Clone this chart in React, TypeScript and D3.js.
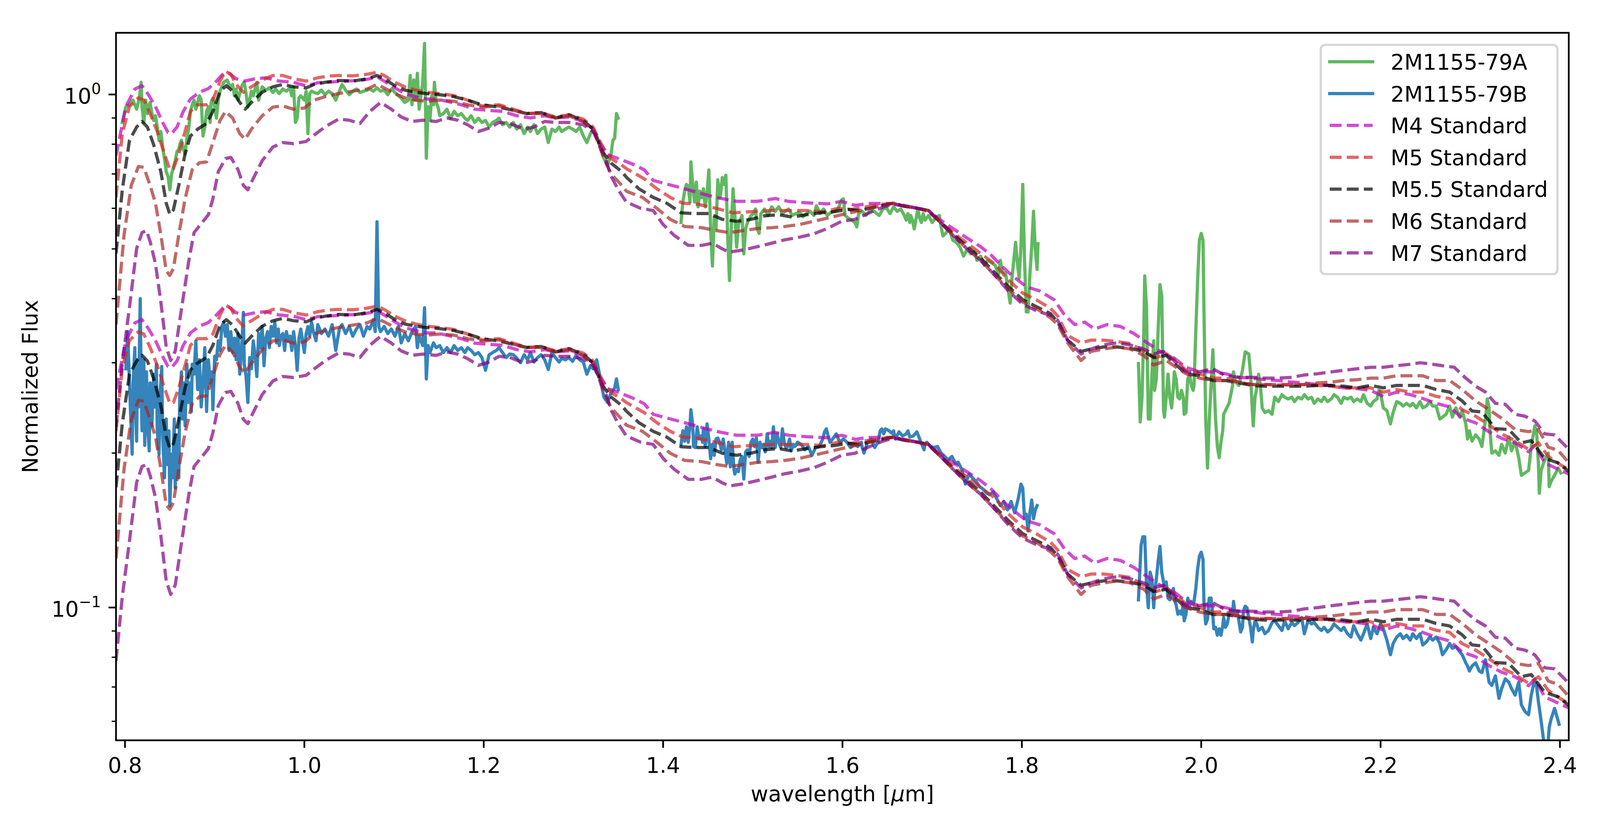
import { useEffect, useRef } from "react";
import * as d3 from "d3";

type Pt = [number, number];

// axis limits and ticks
const xDomain: [number, number] = [0.79, 2.4098];
const yDomain: [number, number] = [0.0551, 1.319];
const xTicks = [0.8, 1.0, 1.2, 1.4, 1.6, 1.8, 2.0, 2.2, 2.4];
const xTickLabels = ["0.8", "1.0", "1.2", "1.4", "1.6", "1.8", "2.0", "2.2", "2.4"];
const yMajorTicks = [0.1, 1];
const yMajorExponents = ["\u22121", "0"];
const yMinorTicks = [0.06, 0.07, 0.08, 0.09, 0.2, 0.3, 0.4, 0.5, 0.6, 0.7, 0.8, 0.9];

// standards are normalised to A; the second copy sits on B
const normB = 0.35;

// 2M1155-79A spectrum (three bands)
const specA1: Pt[] = [
  [0.797,0.882],[0.801,0.946],[0.805,0.955],[0.809,0.975],[0.813,0.936],[0.816,0.984],[0.818,1.056],[0.819,0.946],
  [0.821,0.882],[0.823,0.975],[0.825,0.918],[0.826,0.946],[0.828,0.965],[0.830,0.918],[0.832,0.890],[0.834,0.909],
  [0.836,0.864],[0.838,0.814],[0.840,0.847],[0.842,0.790],[0.844,0.751],[0.846,0.707],[0.848,0.693],[0.850,0.652],
  [0.852,0.700],[0.854,0.721],[0.856,0.743],[0.858,0.774],[0.860,0.782],[0.861,0.798],[0.863,0.814],[0.865,0.782],
  [0.867,0.766],[0.869,0.822],[0.871,0.856],[0.873,0.927],[0.875,0.955],[0.877,0.975],[0.879,0.936],[0.881,0.965],
  [0.883,0.994],[0.885,0.975],[0.887,0.830],[0.889,0.864],[0.891,0.927],[0.893,0.946],[0.895,0.882],[0.896,0.965],
  [0.898,0.984],[0.900,0.946],[0.902,0.899],[0.904,0.975],[0.906,1.015],[0.908,1.035],[0.910,1.056],[0.912,1.062],
  [0.914,1.067],[0.916,1.046],[0.918,1.035],[0.920,1.046],[0.922,0.994],[0.924,1.025],[0.926,0.975],[0.928,1.004],
  [0.930,1.035],[0.931,1.046],[0.933,1.056],[0.935,1.004],[0.937,0.946],[0.939,0.975],[0.941,1.015],[0.943,0.994],
  [0.945,1.025],[0.947,1.056],[0.949,0.975],[0.951,1.004],[0.953,1.035],[0.957,1.020],[0.961,1.030],[0.965,1.009],
  [0.968,1.025],[0.972,1.004],[0.976,1.025],[0.980,1.015],[0.984,1.030],[0.986,0.994],[0.988,1.035],[0.990,0.882],
  [0.992,0.899],[0.994,0.984],[0.996,0.994],[1.000,0.975],[1.002,1.015],[1.004,0.839],[1.006,1.004],[1.008,1.015],
  [1.011,1.009],[1.015,1.004],[1.019,1.020],[1.023,0.999],[1.027,1.015],[1.031,1.004],[1.035,0.975],[1.039,1.015],
  [1.042,1.046],[1.046,1.020],[1.050,0.999],[1.054,1.015],[1.058,1.025],[1.062,1.009],[1.066,1.015],[1.070,1.020],
  [1.073,1.025],[1.077,1.015],[1.081,1.030],[1.085,1.015],[1.089,1.020],[1.093,0.999],[1.097,1.025],[1.101,1.009],
  [1.105,0.994],[1.108,0.984],[1.112,0.965],[1.116,0.975],[1.118,1.089],[1.120,0.955],[1.122,1.067],[1.124,0.975],
  [1.126,1.100],[1.128,0.936],[1.130,0.994],[1.132,1.056],[1.134,1.258],[1.136,0.751],[1.138,0.946],[1.140,0.890],
  [1.142,0.994],[1.144,0.955],[1.145,1.056],[1.147,0.965],[1.149,0.946],[1.151,0.909],[1.155,0.918],[1.159,0.936],
  [1.163,0.899],[1.167,0.927],[1.171,0.909],[1.175,0.918],[1.179,0.899],[1.182,0.890],[1.186,0.909],[1.190,0.882],
  [1.194,0.899],[1.198,0.882],[1.202,0.890],[1.206,0.864],[1.210,0.882],[1.214,0.890],[1.217,0.899],[1.221,0.873],
  [1.225,0.882],[1.229,0.864],[1.233,0.882],[1.237,0.856],[1.241,0.873],[1.245,0.839],[1.249,0.864],[1.252,0.847],
  [1.256,0.873],[1.260,0.839],[1.264,0.856],[1.268,0.864],[1.272,0.806],[1.276,0.856],[1.280,0.847],[1.284,0.864],
  [1.287,0.847],[1.291,0.856],[1.295,0.864],[1.299,0.856],[1.303,0.847],[1.307,0.864],[1.311,0.830],[1.315,0.806],
  [1.319,0.839],[1.322,0.856],[1.326,0.830],[1.330,0.790],[1.334,0.751],[1.338,0.728],[1.342,0.766],[1.344,0.814],
  [1.346,0.822],[1.348,0.918],[1.350,0.899],
];
const specA2: Pt[] = [
  [1.420,0.563],[1.422,0.617],[1.424,0.648],[1.426,0.668],[1.428,0.662],[1.430,0.617],[1.431,0.739],[1.433,0.668],
  [1.435,0.617],[1.437,0.675],[1.439,0.604],[1.441,0.648],[1.443,0.629],[1.445,0.655],[1.447,0.604],[1.449,0.642],
  [1.451,0.713],[1.453,0.547],[1.455,0.463],[1.457,0.575],[1.459,0.547],[1.461,0.682],[1.463,0.629],[1.464,0.636],
  [1.466,0.689],[1.468,0.668],[1.470,0.696],[1.472,0.530],[1.474,0.434],[1.476,0.547],[1.478,0.655],[1.480,0.581],
  [1.482,0.504],[1.484,0.558],[1.486,0.569],[1.488,0.581],[1.490,0.489],[1.492,0.547],[1.494,0.563],[1.498,0.581],
  [1.501,0.586],[1.503,0.598],[1.505,0.547],[1.507,0.536],[1.509,0.586],[1.513,0.598],[1.517,0.581],[1.521,0.604],
  [1.525,0.592],[1.529,0.604],[1.533,0.586],[1.536,0.592],[1.540,0.598],[1.544,0.581],[1.548,0.586],[1.552,0.589],
  [1.556,0.578],[1.560,0.586],[1.564,0.592],[1.568,0.581],[1.571,0.607],[1.575,0.586],[1.579,0.598],[1.583,0.581],
  [1.587,0.589],[1.591,0.592],[1.595,0.598],[1.599,0.623],[1.601,0.626],[1.603,0.581],[1.606,0.575],[1.610,0.569],
  [1.614,0.563],[1.616,0.552],[1.618,0.586],[1.622,0.592],[1.626,0.581],[1.630,0.592],[1.634,0.595],[1.638,0.586],
  [1.641,0.581],[1.645,0.598],[1.649,0.601],[1.653,0.586],[1.657,0.604],[1.661,0.592],[1.665,0.598],[1.669,0.581],
  [1.671,0.569],[1.673,0.586],[1.675,0.563],[1.676,0.581],[1.678,0.569],[1.680,0.547],[1.684,0.598],[1.686,0.575],
  [1.688,0.563],[1.690,0.586],[1.692,0.569],[1.696,0.581],[1.700,0.563],[1.704,0.575],[1.708,0.581],[1.710,0.552],
  [1.712,0.530],[1.715,0.536],[1.719,0.547],[1.723,0.520],[1.727,0.515],[1.731,0.504],[1.735,0.484],[1.739,0.499],
  [1.743,0.489],[1.747,0.494],[1.750,0.475],[1.754,0.484],[1.758,0.465],[1.762,0.475],[1.766,0.470],[1.770,0.465],
  [1.774,0.447],[1.776,0.475],[1.778,0.452],[1.782,0.447],[1.785,0.413],[1.787,0.392],[1.789,0.438],[1.791,0.475],
  [1.793,0.515],[1.795,0.470],[1.797,0.438],[1.799,0.504],[1.801,0.668],[1.803,0.475],[1.805,0.377],[1.807,0.377],
  [1.809,0.447],[1.811,0.504],[1.813,0.592],[1.815,0.499],[1.817,0.456],[1.818,0.512],
];
const specA3: Pt[] = [
  [1.930,0.299],[1.932,0.230],[1.934,0.257],[1.936,0.348],[1.937,0.443],[1.939,0.385],[1.941,0.233],[1.943,0.233],
  [1.945,0.285],[1.947,0.331],[1.948,0.265],[1.950,0.279],[1.952,0.348],[1.954,0.426],[1.956,0.405],[1.958,0.242],
  [1.959,0.235],[1.961,0.257],[1.963,0.285],[1.965,0.257],[1.967,0.245],[1.969,0.268],[1.970,0.288],[1.972,0.279],
  [1.974,0.257],[1.976,0.255],[1.978,0.265],[1.980,0.257],[1.981,0.238],[1.983,0.240],[1.985,0.279],[1.987,0.285],
  [1.989,0.271],[1.991,0.265],[1.992,0.271],[1.994,0.348],[1.996,0.434],[1.998,0.520],[2.000,0.536],[2.002,0.520],
  [2.003,0.385],[2.005,0.233],[2.007,0.187],[2.009,0.233],[2.011,0.271],[2.013,0.318],[2.014,0.285],[2.016,0.233],
  [2.018,0.206],[2.020,0.196],[2.022,0.210],[2.024,0.221],[2.025,0.238],[2.027,0.242],[2.031,0.250],[2.035,0.271],
  [2.036,0.288],[2.038,0.276],[2.042,0.271],[2.046,0.290],[2.049,0.315],[2.053,0.312],[2.055,0.285],[2.057,0.242],
  [2.058,0.226],[2.060,0.257],[2.062,0.268],[2.064,0.285],[2.066,0.271],[2.068,0.245],[2.071,0.240],[2.075,0.242],
  [2.079,0.238],[2.080,0.245],[2.082,0.257],[2.086,0.252],[2.090,0.260],[2.093,0.257],[2.097,0.255],[2.101,0.257],
  [2.104,0.252],[2.108,0.257],[2.112,0.255],[2.115,0.260],[2.119,0.255],[2.123,0.257],[2.126,0.250],[2.130,0.255],
  [2.134,0.252],[2.137,0.257],[2.141,0.252],[2.145,0.255],[2.148,0.260],[2.152,0.257],[2.156,0.250],[2.159,0.257],
  [2.163,0.255],[2.167,0.257],[2.170,0.252],[2.174,0.255],[2.178,0.252],[2.181,0.260],[2.185,0.250],[2.189,0.247],
  [2.192,0.252],[2.196,0.255],[2.198,0.265],[2.200,0.262],[2.203,0.245],[2.207,0.242],[2.211,0.228],[2.214,0.240],
  [2.218,0.252],[2.222,0.250],[2.225,0.247],[2.229,0.250],[2.233,0.247],[2.236,0.250],[2.240,0.245],[2.244,0.252],
  [2.247,0.245],[2.251,0.247],[2.255,0.252],[2.258,0.247],[2.262,0.247],[2.266,0.233],[2.269,0.235],[2.273,0.238],
  [2.277,0.247],[2.280,0.235],[2.284,0.245],[2.288,0.235],[2.291,0.242],[2.295,0.228],[2.297,0.213],[2.299,0.221],
  [2.302,0.211],[2.306,0.217],[2.310,0.213],[2.313,0.206],[2.317,0.233],[2.319,0.255],[2.321,0.245],[2.322,0.221],
  [2.324,0.200],[2.328,0.202],[2.332,0.198],[2.335,0.208],[2.339,0.200],[2.343,0.215],[2.346,0.202],[2.350,0.211],
  [2.354,0.196],[2.357,0.181],[2.361,0.183],[2.365,0.185],[2.368,0.206],[2.372,0.226],[2.374,0.219],[2.376,0.190],
  [2.377,0.167],[2.379,0.185],[2.383,0.194],[2.387,0.200],[2.388,0.172],[2.390,0.176],[2.394,0.181],[2.398,0.187],
  [2.401,0.183],
];

// 2M1155-79B spectrum (three bands)
const specB1: Pt[] = [
  [0.801,0.292],[0.803,0.345],[0.805,0.274],[0.807,0.221],[0.808,0.199],[0.809,0.274],[0.811,0.321],[0.812,0.238],
  [0.813,0.211],[0.814,0.304],[0.815,0.246],[0.817,0.400],[0.818,0.274],[0.819,0.221],[0.821,0.304],[0.822,0.207],
  [0.824,0.288],[0.825,0.233],[0.827,0.202],[0.828,0.274],[0.830,0.226],[0.832,0.285],[0.833,0.246],[0.835,0.298],
  [0.836,0.221],[0.838,0.199],[0.839,0.259],[0.841,0.295],[0.842,0.217],[0.844,0.179],[0.846,0.233],[0.847,0.190],
  [0.849,0.221],[0.850,0.158],[0.852,0.199],[0.853,0.179],[0.855,0.233],[0.856,0.171],[0.858,0.217],[0.860,0.179],
  [0.861,0.259],[0.863,0.288],[0.864,0.233],[0.866,0.274],[0.867,0.226],[0.869,0.298],[0.870,0.251],[0.872,0.274],
  [0.874,0.241],[0.875,0.298],[0.877,0.285],[0.879,0.331],[0.881,0.266],[0.883,0.304],[0.885,0.246],[0.887,0.274],
  [0.889,0.321],[0.891,0.241],[0.893,0.304],[0.895,0.274],[0.897,0.288],[0.898,0.243],[0.900,0.309],[0.902,0.304],
  [0.904,0.331],[0.906,0.317],[0.908,0.353],[0.910,0.360],[0.912,0.338],[0.914,0.356],[0.916,0.317],[0.918,0.345],
  [0.920,0.314],[0.922,0.335],[0.924,0.304],[0.926,0.342],[0.928,0.285],[0.930,0.317],[0.932,0.376],[0.933,0.298],
  [0.935,0.282],[0.937,0.251],[0.939,0.307],[0.941,0.292],[0.943,0.331],[0.945,0.311],[0.947,0.282],[0.949,0.342],
  [0.951,0.321],[0.953,0.353],[0.955,0.296],[0.957,0.335],[0.959,0.345],[0.961,0.321],[0.963,0.353],[0.965,0.338],
  [0.967,0.360],[0.969,0.328],[0.971,0.349],[0.972,0.324],[0.974,0.338],[0.976,0.342],[0.978,0.317],[0.980,0.345],
  [0.982,0.331],[0.984,0.338],[0.986,0.317],[0.988,0.345],[0.990,0.324],[0.992,0.290],[0.994,0.335],[0.996,0.349],
  [0.998,0.331],[1.000,0.314],[1.002,0.342],[1.004,0.353],[1.006,0.338],[1.008,0.360],[1.010,0.345],[1.013,0.331],
  [1.015,0.356],[1.019,0.342],[1.023,0.349],[1.027,0.338],[1.031,0.356],[1.035,0.317],[1.039,0.349],[1.042,0.356],
  [1.046,0.342],[1.050,0.353],[1.054,0.338],[1.058,0.349],[1.062,0.356],[1.066,0.338],[1.070,0.353],[1.073,0.349],
  [1.077,0.364],[1.079,0.345],[1.081,0.565],[1.083,0.353],[1.085,0.345],[1.089,0.353],[1.093,0.342],[1.097,0.349],
  [1.101,0.338],[1.105,0.353],[1.108,0.328],[1.112,0.342],[1.116,0.331],[1.120,0.345],[1.124,0.353],[1.126,0.321],
  [1.128,0.338],[1.132,0.324],[1.134,0.384],[1.136,0.279],[1.138,0.324],[1.140,0.314],[1.144,0.328],[1.147,0.321],
  [1.151,0.324],[1.155,0.314],[1.159,0.321],[1.163,0.314],[1.167,0.324],[1.171,0.317],[1.175,0.321],[1.179,0.314],
  [1.182,0.321],[1.186,0.317],[1.190,0.311],[1.194,0.314],[1.198,0.307],[1.202,0.290],[1.206,0.311],[1.210,0.314],
  [1.214,0.317],[1.217,0.321],[1.221,0.314],[1.225,0.307],[1.229,0.312],[1.233,0.311],[1.237,0.306],[1.241,0.300],
  [1.245,0.311],[1.249,0.304],[1.252,0.314],[1.256,0.301],[1.260,0.307],[1.264,0.311],[1.268,0.304],[1.272,0.291],
  [1.276,0.314],[1.280,0.307],[1.284,0.301],[1.287,0.306],[1.291,0.304],[1.295,0.307],[1.299,0.302],[1.303,0.310],
  [1.307,0.304],[1.311,0.301],[1.315,0.285],[1.319,0.296],[1.322,0.292],[1.326,0.304],[1.330,0.279],[1.334,0.257],
  [1.338,0.251],[1.342,0.262],[1.346,0.268],[1.348,0.279],[1.350,0.266],
];
const specB2: Pt[] = [
  [1.420,0.208],[1.422,0.221],[1.424,0.211],[1.426,0.225],[1.428,0.210],[1.430,0.227],[1.431,0.243],[1.433,0.227],
  [1.434,0.206],[1.436,0.205],[1.438,0.225],[1.440,0.213],[1.442,0.216],[1.444,0.210],[1.445,0.223],[1.447,0.206],
  [1.449,0.228],[1.451,0.213],[1.453,0.195],[1.455,0.208],[1.457,0.198],[1.459,0.213],[1.461,0.214],[1.463,0.210],
  [1.465,0.203],[1.467,0.213],[1.469,0.202],[1.471,0.191],[1.473,0.210],[1.475,0.188],[1.477,0.210],[1.479,0.186],
  [1.480,0.182],[1.482,0.186],[1.484,0.184],[1.486,0.194],[1.488,0.197],[1.490,0.178],[1.492,0.201],[1.494,0.203],
  [1.496,0.197],[1.498,0.210],[1.500,0.213],[1.502,0.206],[1.504,0.214],[1.506,0.192],[1.508,0.210],[1.510,0.205],
  [1.512,0.208],[1.514,0.201],[1.516,0.218],[1.518,0.206],[1.520,0.211],[1.521,0.205],[1.523,0.225],[1.525,0.205],
  [1.527,0.218],[1.529,0.210],[1.531,0.205],[1.533,0.223],[1.535,0.210],[1.537,0.205],[1.539,0.206],[1.541,0.213],
  [1.543,0.202],[1.545,0.208],[1.547,0.206],[1.550,0.210],[1.554,0.208],[1.558,0.203],[1.562,0.206],[1.566,0.198],
  [1.570,0.205],[1.574,0.206],[1.578,0.213],[1.580,0.220],[1.582,0.223],[1.584,0.216],[1.586,0.210],[1.589,0.213],
  [1.593,0.218],[1.597,0.210],[1.601,0.213],[1.605,0.210],[1.609,0.205],[1.613,0.208],[1.617,0.206],[1.621,0.210],
  [1.622,0.205],[1.624,0.200],[1.628,0.210],[1.632,0.213],[1.636,0.205],[1.640,0.211],[1.642,0.221],[1.644,0.223],
  [1.646,0.218],[1.648,0.223],[1.652,0.221],[1.656,0.218],[1.657,0.221],[1.659,0.213],[1.663,0.220],[1.667,0.216],
  [1.671,0.218],[1.673,0.221],[1.675,0.215],[1.679,0.216],[1.683,0.220],[1.687,0.211],[1.691,0.203],[1.692,0.208],
  [1.694,0.210],[1.698,0.206],[1.702,0.205],[1.706,0.206],[1.710,0.200],[1.714,0.197],[1.718,0.194],[1.722,0.197],
  [1.726,0.191],[1.729,0.192],[1.733,0.186],[1.737,0.174],[1.741,0.182],[1.745,0.179],[1.749,0.176],[1.753,0.172],
  [1.757,0.170],[1.761,0.167],[1.764,0.166],[1.768,0.168],[1.772,0.163],[1.776,0.158],[1.780,0.161],[1.784,0.155],
  [1.788,0.161],[1.792,0.153],[1.796,0.163],[1.799,0.174],[1.801,0.171],[1.803,0.149],[1.805,0.152],[1.807,0.141],
  [1.809,0.153],[1.811,0.162],[1.813,0.149],[1.815,0.155],[1.817,0.158],
];
const specB3: Pt[] = [
  [1.930,0.1035],[1.933,0.1325],[1.935,0.1374],[1.937,0.1374],[1.939,0.1105],[1.941,0.0999],[1.943,0.1172],[1.945,0.1138],
  [1.947,0.0999],[1.948,0.1066],[1.950,0.1138],[1.952,0.1232],[1.954,0.1315],[1.956,0.1172],[1.958,0.1122],[1.959,0.1089],
  [1.961,0.1122],[1.963,0.1043],[1.965,0.1035],[1.967,0.1073],[1.969,0.1089],[1.970,0.1035],[1.972,0.1013],[1.974,0.0970],
  [1.976,0.0984],[1.978,0.0970],[1.980,0.1013],[1.981,0.0942],[1.983,0.0970],[1.985,0.1043],[1.987,0.1021],[1.989,0.1028],
  [1.991,0.1013],[1.992,0.1028],[1.994,0.1089],[1.996,0.1189],[1.998,0.1259],[2.000,0.1282],[2.002,0.1241],[2.003,0.1028],
  [2.005,0.0929],[2.007,0.0949],[2.009,0.1043],[2.011,0.1043],[2.013,0.0963],[2.014,0.0909],[2.016,0.0915],[2.018,0.0883],
  [2.020,0.0909],[2.022,0.0883],[2.024,0.0922],[2.025,0.0956],[2.027,0.0915],[2.029,0.0929],[2.031,0.0970],[2.033,0.0984],
  [2.035,0.0970],[2.036,0.1028],[2.038,0.0963],[2.040,0.0984],[2.042,0.0942],[2.044,0.0896],[2.046,0.0915],[2.047,0.0984],
  [2.049,0.1006],[2.051,0.0999],[2.053,0.0956],[2.055,0.0915],[2.057,0.0857],[2.058,0.0902],[2.060,0.0942],[2.062,0.0929],
  [2.064,0.0902],[2.068,0.0915],[2.071,0.0889],[2.075,0.0902],[2.079,0.0935],[2.082,0.0942],[2.086,0.0922],[2.090,0.0902],
  [2.093,0.0942],[2.097,0.0909],[2.101,0.0935],[2.104,0.0922],[2.108,0.0935],[2.112,0.0956],[2.115,0.0889],[2.119,0.0942],
  [2.123,0.0929],[2.126,0.0935],[2.130,0.0915],[2.134,0.0902],[2.137,0.0915],[2.141,0.0896],[2.145,0.0909],[2.148,0.0929],
  [2.152,0.0915],[2.156,0.0902],[2.159,0.0915],[2.163,0.0889],[2.167,0.0876],[2.170,0.0922],[2.174,0.0889],[2.178,0.0864],
  [2.181,0.0889],[2.185,0.0929],[2.189,0.0870],[2.192,0.0915],[2.196,0.0889],[2.200,0.0929],[2.203,0.0909],[2.207,0.0864],
  [2.211,0.0809],[2.214,0.0851],[2.218,0.0876],[2.222,0.0889],[2.225,0.0870],[2.229,0.0883],[2.233,0.0864],[2.236,0.0889],
  [2.240,0.0870],[2.244,0.0889],[2.247,0.0845],[2.251,0.0857],[2.255,0.0876],[2.258,0.0864],[2.262,0.0876],[2.266,0.0851],
  [2.269,0.0809],[2.273,0.0827],[2.277,0.0851],[2.280,0.0833],[2.284,0.0839],[2.288,0.0821],[2.291,0.0809],[2.295,0.0780],
  [2.297,0.0769],[2.299,0.0752],[2.302,0.0769],[2.306,0.0780],[2.310,0.0752],[2.313,0.0747],[2.317,0.0791],[2.321,0.0715],
  [2.324,0.0705],[2.328,0.0736],[2.332,0.0665],[2.335,0.0695],[2.339,0.0726],[2.343,0.0715],[2.346,0.0695],[2.350,0.0675],
  [2.354,0.0715],[2.357,0.0646],[2.361,0.0627],[2.365,0.0618],[2.368,0.0675],[2.372,0.0726],[2.374,0.0700],[2.376,0.0655],
  [2.379,0.0601],[2.383,0.0530],[2.386,0.0525],[2.388,0.0584],[2.390,0.0605],[2.394,0.0636],[2.398,0.0601],[2.399,0.0592],
];

// spectral standards, normalised to 2M1155-79A
const stdM4: Pt[] = [
  [0.790,0.76],[0.801,0.947],[0.811,1.025],[0.819,1.04],[0.826,1.0],[0.834,0.947],[0.842,0.882],[0.848,0.843],
  [0.852,0.839],[0.858,0.864],[0.865,0.927],[0.873,0.98],[0.883,1.01],[0.893,1.027],[0.902,1.062],[0.910,1.10],
  [0.916,1.10],[0.924,1.073],[0.933,1.062],[0.945,1.073],[0.957,1.078],[0.972,1.062],[0.988,1.056],[1.002,1.04],
  [1.015,1.054],[1.031,1.058],[1.046,1.062],[1.062,1.065],[1.073,1.073],[1.081,1.083],[1.089,1.062],[1.101,1.03],
  [1.112,1.004],[1.124,0.99],[1.136,0.98],[1.147,0.98],[1.159,0.97],[1.175,0.955],[1.190,0.936],[1.206,0.931],
  [1.221,0.927],[1.237,0.909],[1.252,0.9],[1.268,0.909],[1.280,0.9],[1.295,0.904],[1.311,0.886],[1.322,0.856],
  [1.330,0.806],[1.338,0.763],[1.350,0.75],[1.359,0.74],[1.369,0.728],[1.379,0.713],[1.389,0.68],[1.404,0.669],
  [1.424,0.655],[1.447,0.638],[1.463,0.628],[1.482,0.619],[1.505,0.619],[1.525,0.627],[1.540,0.619],[1.560,0.615],
  [1.583,0.612],[1.599,0.619],[1.614,0.608],[1.630,0.613],[1.645,0.613],[1.657,0.613],[1.669,0.608],[1.684,0.6],
  [1.696,0.594],[1.708,0.571],[1.723,0.548],[1.739,0.525],[1.754,0.505],[1.766,0.486],[1.778,0.462],[1.789,0.444],
  [1.805,0.422],[1.820,0.414],[1.836,0.398],[1.848,0.371],[1.859,0.356],[1.870,0.36],[1.881,0.349],[1.895,0.356],
  [1.910,0.353],[1.925,0.342],[1.940,0.328],[1.954,0.316],[1.969,0.307],[1.983,0.294],[1.998,0.288],[2.013,0.288],
  [2.027,0.2856],[2.042,0.281],[2.057,0.28],[2.071,0.278],[2.086,0.277],[2.101,0.275],[2.115,0.274],[2.130,0.272],
  [2.145,0.271],[2.159,0.268],[2.174,0.267],[2.189,0.265],[2.203,0.258],[2.218,0.263],[2.233,0.26],[2.247,0.2555],
  [2.262,0.25],[2.277,0.246],[2.291,0.234],[2.306,0.229],[2.321,0.22],[2.335,0.2137],[2.350,0.2094],[2.365,0.2012],
  [2.372,0.207],[2.383,0.1914],[2.398,0.186],[2.410,0.182],
];
const stdM5: Pt[] = [
  [0.790,0.63],[0.797,0.839],[0.805,0.947],[0.815,0.985],[0.821,0.975],[0.828,0.918],[0.836,0.847],[0.844,0.766],
  [0.850,0.714],[0.854,0.717],[0.860,0.766],[0.867,0.847],[0.873,0.927],[0.881,0.955],[0.891,0.955],[0.898,0.975],
  [0.906,1.062],[0.912,1.11],[0.918,1.095],[0.924,1.046],[0.932,1.01],[0.941,1.035],[0.953,1.067],[0.965,1.089],
  [0.976,1.089],[0.988,1.073],[1.002,1.062],[1.015,1.078],[1.027,1.086],[1.038,1.089],[1.054,1.087],[1.070,1.095],
  [1.081,1.105],[1.089,1.089],[1.101,1.056],[1.112,1.035],[1.124,1.02],[1.136,1.01],[1.151,1.004],[1.167,0.995],
  [1.182,0.975],[1.198,0.95],[1.217,0.955],[1.233,0.936],[1.248,0.918],[1.264,0.922],[1.280,0.904],[1.295,0.913],
  [1.311,0.895],[1.322,0.864],[1.332,0.79],[1.342,0.75],[1.354,0.728],[1.359,0.717],[1.379,0.685],[1.393,0.655],
  [1.408,0.63],[1.422,0.614],[1.439,0.611],[1.459,0.6],[1.478,0.588],[1.498,0.591],[1.521,0.594],[1.540,0.594],
  [1.560,0.594],[1.579,0.591],[1.595,0.6],[1.610,0.597],[1.630,0.6055],[1.645,0.611],[1.657,0.614],[1.669,0.6055],
  [1.684,0.6],[1.696,0.591],[1.708,0.566],[1.723,0.538],[1.739,0.513],[1.754,0.49],[1.770,0.467],[1.785,0.435],
  [1.801,0.41],[1.816,0.398],[1.832,0.383],[1.840,0.37],[1.851,0.339],[1.866,0.328],[1.877,0.332],[1.891,0.332],
  [1.906,0.33],[1.921,0.327],[1.936,0.3156],[1.950,0.307],[1.961,0.312],[1.972,0.303],[1.983,0.29],[1.998,0.2856],
  [2.013,0.28],[2.027,0.28],[2.042,0.275],[2.057,0.272],[2.071,0.272],[2.086,0.2715],[2.101,0.2715],[2.115,0.272],
  [2.130,0.271],[2.145,0.27],[2.159,0.268],[2.174,0.268],[2.189,0.268],[2.203,0.263],[2.218,0.266],[2.233,0.263],
  [2.247,0.263],[2.262,0.258],[2.277,0.2555],[2.291,0.243],[2.306,0.236],[2.321,0.227],[2.335,0.218],[2.350,0.2115],
  [2.365,0.2033],[2.376,0.2094],[2.387,0.197],[2.401,0.1895],[2.410,0.1857],
];
const stdM55: Pt[] = [
  [0.790,0.49],[0.797,0.652],[0.805,0.814],[0.813,0.864],[0.819,0.886],[0.825,0.864],[0.832,0.798],[0.840,0.707],
  [0.846,0.614],[0.850,0.584],[0.854,0.596],[0.860,0.665],[0.867,0.766],[0.873,0.83],[0.881,0.856],[0.891,0.878],
  [0.898,0.927],[0.906,1.015],[0.913,1.04],[0.920,1.015],[0.928,0.965],[0.934,0.936],[0.941,0.965],[0.953,1.01],
  [0.965,1.035],[0.976,1.046],[0.988,1.035],[1.002,1.03],[1.011,1.046],[1.023,1.056],[1.038,1.065],[1.054,1.062],
  [1.070,1.073],[1.081,1.089],[1.089,1.073],[1.101,1.04],[1.112,1.02],[1.124,1.01],[1.136,1.004],[1.151,0.999],
  [1.167,0.99],[1.182,0.975],[1.198,0.955],[1.217,0.945],[1.233,0.931],[1.248,0.918],[1.264,0.922],[1.280,0.9],
  [1.295,0.913],[1.311,0.89],[1.322,0.856],[1.332,0.775],[1.342,0.735],[1.354,0.707],[1.359,0.69],[1.373,0.655],
  [1.389,0.63],[1.404,0.614],[1.420,0.588],[1.435,0.586],[1.451,0.586],[1.466,0.571],[1.482,0.566],[1.498,0.571],
  [1.513,0.58],[1.529,0.583],[1.544,0.577],[1.560,0.583],[1.575,0.588],[1.591,0.591],[1.606,0.597],[1.618,0.594],
  [1.630,0.6],[1.645,0.608],[1.657,0.614],[1.669,0.6055],[1.684,0.6],[1.696,0.594],[1.708,0.566],[1.723,0.535],
  [1.739,0.505],[1.754,0.48],[1.770,0.449],[1.785,0.422],[1.801,0.398],[1.816,0.386],[1.832,0.374],[1.840,0.36],
  [1.851,0.332],[1.866,0.3156],[1.877,0.319],[1.891,0.322],[1.906,0.322],[1.921,0.32],[1.936,0.3156],[1.947,0.307],
  [1.961,0.31],[1.972,0.297],[1.983,0.2856],[1.998,0.283],[2.013,0.277],[2.027,0.277],[2.042,0.274],[2.057,0.271],
  [2.071,0.27],[2.086,0.27],[2.101,0.27],[2.115,0.27],[2.130,0.271],[2.145,0.271],[2.159,0.27],[2.174,0.268],
  [2.189,0.271],[2.203,0.268],[2.218,0.271],[2.233,0.271],[2.247,0.271],[2.262,0.266],[2.277,0.263],[2.291,0.2527],
  [2.302,0.2416],[2.313,0.2405],[2.328,0.2233],[2.343,0.2223],[2.357,0.2094],[2.368,0.2115],[2.383,0.1953],[2.398,0.1914],
  [2.410,0.184],
];
const stdM6: Pt[] = [
  [0.790,0.356],[0.799,0.533],[0.807,0.665],[0.815,0.724],[0.821,0.721],[0.828,0.665],[0.834,0.614],[0.840,0.533],
  [0.846,0.453],[0.850,0.444],[0.854,0.458],[0.860,0.533],[0.867,0.626],[0.875,0.714],[0.883,0.736],[0.891,0.739],
  [0.898,0.806],[0.906,0.89],[0.912,0.927],[0.920,0.9],[0.928,0.839],[0.934,0.818],[0.941,0.856],[0.953,0.909],
  [0.965,0.945],[0.976,0.95],[0.988,0.936],[1.000,0.941],[1.011,0.975],[1.023,0.99],[1.038,1.004],[1.054,1.015],
  [1.070,1.025],[1.081,1.046],[1.089,1.03],[1.101,1.004],[1.112,0.985],[1.124,0.975],[1.136,0.97],[1.151,0.975],
  [1.167,0.97],[1.182,0.955],[1.198,0.945],[1.217,0.95],[1.233,0.931],[1.248,0.918],[1.264,0.918],[1.280,0.9],
  [1.295,0.909],[1.311,0.886],[1.324,0.839],[1.334,0.75],[1.342,0.7],[1.354,0.665],[1.359,0.648],[1.377,0.63],
  [1.393,0.6],[1.408,0.571],[1.424,0.553],[1.443,0.55],[1.459,0.543],[1.474,0.538],[1.490,0.543],[1.505,0.548],
  [1.521,0.55],[1.536,0.553],[1.552,0.558],[1.568,0.566],[1.583,0.574],[1.599,0.583],[1.614,0.591],[1.630,0.6],
  [1.645,0.608],[1.657,0.614],[1.669,0.6055],[1.684,0.6],[1.696,0.594],[1.708,0.566],[1.723,0.532],[1.739,0.5],
  [1.754,0.475],[1.770,0.444],[1.785,0.418],[1.801,0.394],[1.816,0.383],[1.832,0.367],[1.840,0.356],[1.851,0.328],
  [1.866,0.303],[1.877,0.3156],[1.891,0.319],[1.906,0.322],[1.921,0.319],[1.936,0.31],[1.947,0.297],[1.961,0.303],
  [1.972,0.294],[1.983,0.2856],[1.998,0.28],[2.013,0.277],[2.027,0.277],[2.042,0.275],[2.057,0.272],[2.071,0.272],
  [2.086,0.272],[2.101,0.272],[2.115,0.272],[2.130,0.274],[2.145,0.275],[2.159,0.277],[2.174,0.278],[2.189,0.28],
  [2.203,0.28],[2.218,0.283],[2.233,0.283],[2.247,0.283],[2.262,0.277],[2.277,0.277],[2.291,0.266],[2.306,0.2527],
  [2.321,0.243],[2.335,0.2338],[2.350,0.2223],[2.365,0.2202],[2.376,0.2223],[2.387,0.2054],[2.398,0.2024],[2.410,0.1914],
];
const stdM7: Pt[] = [
  [0.790,0.225],[0.797,0.30],[0.805,0.385],[0.813,0.501],[0.819,0.538],[0.824,0.543],[0.828,0.517],[0.834,0.468],
  [0.840,0.394],[0.846,0.322],[0.851,0.303],[0.856,0.316],[0.863,0.382],[0.871,0.472],[0.877,0.538],[0.885,0.56],
  [0.893,0.583],[0.898,0.626],[0.904,0.707],[0.912,0.75],[0.918,0.754],[0.926,0.714],[0.932,0.665],[0.937,0.652],
  [0.943,0.686],[0.953,0.743],[0.965,0.79],[0.976,0.806],[0.988,0.802],[1.002,0.81],[1.013,0.839],[1.025,0.869],
  [1.038,0.895],[1.050,0.891],[1.062,0.878],[1.073,0.927],[1.085,0.965],[1.097,0.936],[1.108,0.904],[1.120,0.886],
  [1.132,0.891],[1.147,0.886],[1.159,0.9],[1.171,0.891],[1.182,0.873],[1.194,0.847],[1.206,0.86],[1.217,0.882],
  [1.229,0.878],[1.245,0.856],[1.256,0.864],[1.268,0.886],[1.280,0.882],[1.295,0.882],[1.311,0.873],[1.322,0.847],
  [1.334,0.766],[1.342,0.693],[1.350,0.652],[1.359,0.617],[1.375,0.6],[1.389,0.594],[1.400,0.558],[1.412,0.532],
  [1.428,0.508],[1.443,0.508],[1.455,0.513],[1.466,0.5],[1.474,0.493],[1.490,0.498],[1.505,0.505],[1.521,0.513],
  [1.536,0.521],[1.552,0.527],[1.568,0.535],[1.583,0.548],[1.599,0.566],[1.614,0.571],[1.630,0.588],[1.645,0.603],
  [1.657,0.611],[1.669,0.6055],[1.684,0.6],[1.696,0.594],[1.708,0.566],[1.723,0.532],[1.739,0.5],[1.754,0.475],
  [1.770,0.444],[1.785,0.414],[1.801,0.39],[1.816,0.379],[1.832,0.371],[1.840,0.363],[1.851,0.332],[1.866,0.312],
  [1.877,0.319],[1.891,0.325],[1.906,0.328],[1.921,0.325],[1.936,0.319],[1.947,0.312],[1.958,0.3156],[1.972,0.3],
  [1.983,0.288],[1.998,0.288],[2.013,0.292],[2.027,0.283],[2.042,0.281],[2.057,0.281],[2.071,0.28],[2.086,0.28],
  [2.101,0.281],[2.115,0.284],[2.130,0.2856],[2.145,0.288],[2.159,0.29],[2.174,0.292],[2.189,0.294],[2.203,0.294],
  [2.218,0.296],[2.233,0.298],[2.244,0.3],[2.258,0.298],[2.269,0.296],[2.282,0.294],[2.295,0.28],[2.306,0.27],
  [2.317,0.263],[2.328,0.25],[2.339,0.249],[2.350,0.238],[2.361,0.236],[2.372,0.231],[2.383,0.218],[2.394,0.217],
  [2.410,0.2033],
];

const spectra = [
  { label: "2M1155-79A", color: "#2ca02c", opacity: 0.75, segments: [specA1, specA2, specA3] },
  { label: "2M1155-79B", color: "#1f77b4", opacity: 0.9, segments: [specB1, specB2, specB3] },
];
const standards = [
  { label: "M4 Standard", color: "#bf00bf", data: stdM4 },
  { label: "M5 Standard", color: "#d62728", data: stdM5 },
  { label: "M5.5 Standard", color: "#000000", data: stdM55 },
  { label: "M6 Standard", color: "#a52a2a", data: stdM6 },
  { label: "M7 Standard", color: "#800080", data: stdM7 },
];

const W = 4351;
const H = 2118;
const M = { left: 297, right: 4016, top: 84, bottom: 1896 };
const PT = 5.5; // pixels per point
const FONT = "DejaVu Sans, sans-serif";
const FS = 55;

function App() {
  const svgRef = useRef<SVGSVGElement | null>(null);

  useEffect(() => {
    if (!svgRef.current) return;
    const svg = d3.select(svgRef.current);
    svg.selectAll("*").remove();

    const x = d3.scaleLinear().domain(xDomain).range([M.left, M.right]);
    const y = d3.scaleLog().domain(yDomain).range([M.bottom, M.top]);
    const line = d3.line<Pt>().x((d) => x(d[0])).y((d) => y(d[1]));
    const lw = 1.5 * PT;
    const dash = `${3.7 * lw} ${1.6 * lw}`;

    svg.append("rect").attr("width", W).attr("height", H).attr("fill", "#fff");

    svg.append("defs").append("clipPath").attr("id", "plot-clip")
      .append("rect")
      .attr("x", M.left).attr("y", M.top)
      .attr("width", M.right - M.left).attr("height", M.bottom - M.top);

    const plot = svg.append("g").attr("clip-path", "url(#plot-clip)");

    // observed spectra first
    spectra.forEach((s) => {
      s.segments.forEach((seg) => {
        plot.append("path")
          .attr("d", line(seg))
          .attr("fill", "none")
          .attr("stroke", s.color)
          .attr("stroke-opacity", s.opacity)
          .attr("stroke-width", lw)
          .attr("stroke-linejoin", "round")
          .attr("stroke-linecap", "square");
      });
    });

    // standards on top, one copy per component
    standards.forEach((s) => {
      const copies: Pt[][] = [s.data, s.data.map((d) => [d[0], d[1] * normB] as Pt)];
      copies.forEach((data) => {
        plot.append("path")
          .attr("d", line(data))
          .attr("fill", "none")
          .attr("stroke", s.color)
          .attr("stroke-opacity", 0.7)
          .attr("stroke-width", lw)
          .attr("stroke-dasharray", dash)
          .attr("stroke-linejoin", "round")
          .attr("stroke-linecap", "butt");
      });
    });

    // ticks
    const axes = svg.append("g").attr("stroke", "#000");
    xTicks.forEach((t, i) => {
      axes.append("line")
        .attr("x1", x(t)).attr("x2", x(t))
        .attr("y1", M.bottom).attr("y2", M.bottom + 3.5 * PT)
        .attr("stroke-width", 0.8 * PT);
      svg.append("text")
        .attr("x", x(t)).attr("y", 1979)
        .attr("text-anchor", "middle")
        .attr("font-family", FONT).attr("font-size", FS)
        .text(xTickLabels[i]);
    });
    yMinorTicks.forEach((t) => {
      axes.append("line")
        .attr("x1", M.left - 2 * PT).attr("x2", M.left)
        .attr("y1", y(t)).attr("y2", y(t))
        .attr("stroke-width", 0.6 * PT);
    });
    yMajorTicks.forEach((t, i) => {
      axes.append("line")
        .attr("x1", M.left - 3.5 * PT).attr("x2", M.left)
        .attr("y1", y(t)).attr("y2", y(t))
        .attr("stroke-width", 0.8 * PT);
      const label = svg.append("text")
        .attr("x", M.left - 7 * PT).attr("y", y(t) + 23)
        .attr("text-anchor", "end")
        .attr("font-family", FONT).attr("font-size", FS);
      label.append("tspan").text("10");
      label.append("tspan").attr("dy", -24).attr("font-size", FS * 0.7).text(yMajorExponents[i]);
    });

    // spines
    svg.append("rect")
      .attr("x", M.left).attr("y", M.top)
      .attr("width", M.right - M.left).attr("height", M.bottom - M.top)
      .attr("fill", "none").attr("stroke", "#000").attr("stroke-width", 0.8 * PT);

    // axis labels
    const xl = svg.append("text")
      .attr("x", (M.left + M.right) / 2).attr("y", 2052)
      .attr("text-anchor", "middle")
      .attr("font-family", FONT).attr("font-size", FS);
    xl.append("tspan").text("wavelength [");
    xl.append("tspan").attr("font-style", "italic").text("\u03bc");
    xl.append("tspan").text("m]");

    svg.append("text")
      .attr("transform", `translate(96,${(M.top + M.bottom) / 2}) rotate(-90)`)
      .attr("text-anchor", "middle")
      .attr("font-family", FONT).attr("font-size", FS)
      .text("Normalized Flux");

    // legend
    const lg = svg.append("g");
    lg.append("rect")
      .attr("x", 3381).attr("y", 115).attr("width", 606).attr("height", 587)
      .attr("rx", 11).attr("ry", 11)
      .attr("fill", "#fff").attr("fill-opacity", 0.8)
      .attr("stroke", "#d6d6d6").attr("stroke-width", PT);
    const entries = [
      ...spectra.map((s) => ({ label: s.label, color: s.color, opacity: s.opacity, dashed: false })),
      ...standards.map((s) => ({ label: s.label, color: s.color, opacity: 0.7, dashed: true })),
    ];
    entries.forEach((e, i) => {
      const ry = 158 + i * 81.6;
      lg.append("line")
        .attr("x1", 3404).attr("x2", 3514)
        .attr("y1", ry).attr("y2", ry)
        .attr("stroke", e.color).attr("stroke-opacity", e.opacity)
        .attr("stroke-width", lw)
        .attr("stroke-linecap", e.dashed ? "butt" : "square")
        .attr("stroke-dasharray", e.dashed ? dash : null);
      lg.append("text")
        .attr("x", 3560).attr("y", ry + 20)
        .attr("font-family", FONT).attr("font-size", FS)
        .text(e.label);
    });
  }, []);

  return (
    <svg
      ref={svgRef}
      width={W}
      height={H}
      style={{ position: "absolute", left: 0, top: 0, display: "block" }}
    />
  );
}

export default App;
